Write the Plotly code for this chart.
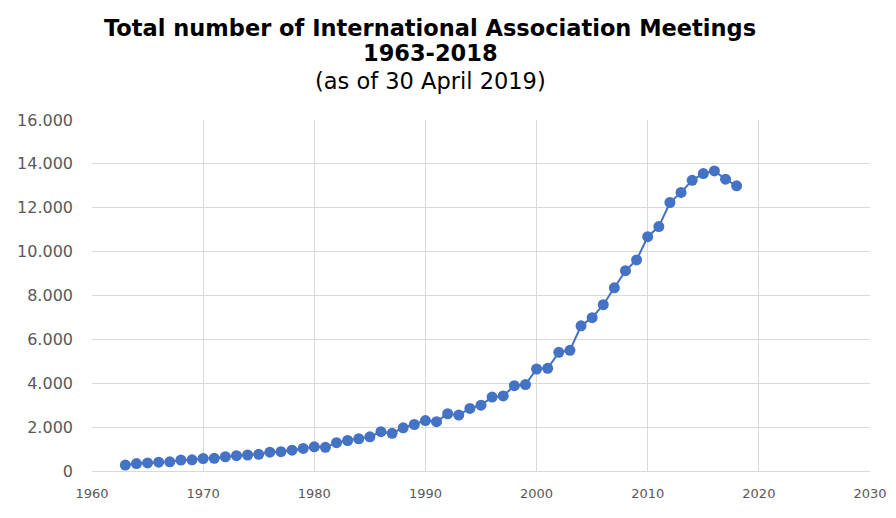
import plotly.graph_objects as go

years = list(range(1963, 2019))
meetings = [270, 340, 370, 400, 420, 500, 510, 570, 580, 650,
            700, 730, 760, 860, 880, 950, 1030, 1100, 1080, 1290,
            1390, 1470, 1560, 1790, 1720, 1970, 2120, 2300, 2250, 2610,
            2550, 2850, 3000, 3370, 3420, 3890, 3940, 4650, 4680, 5410,
            5500, 6620, 6990, 7580, 8350, 9130, 9620, 10680, 11140, 12240,
            12700, 13250, 13560, 13680, 13300, 13000]

title_lines = ["Total number of International Association Meetings", "1963-2018", "(as of 30 April 2019)"]

blue = "#4472C4"
grid = "#d9d9d9"
tickcol = "#595959"
font = "DejaVu Sans"

fig = go.Figure()
fig.add_trace(go.Scatter(
    x=years, y=meetings, mode="lines+markers",
    line=dict(color=blue, width=2),
    marker=dict(color=blue, size=11),
    showlegend=False,
))

# page body has an 8px margin; compensate so the plot lands where the reference has it
W, H = 880, 510
ML, MR, MT, MB = 84, 18, 112, 47
fig.update_layout(
    width=W, height=H,
    margin=dict(l=ML, r=MR, t=MT, b=MB),
    paper_bgcolor="white", plot_bgcolor="white",
    separators=",.",
    font=dict(family=font, color=tickcol),
    xaxis=dict(range=[1960, 2030], dtick=10, tick0=1960, automargin=False,
               showgrid=True, gridcolor=grid, gridwidth=1,
               showline=True, mirror=False, linecolor=grid, zeroline=False,
               ticks="", ticklabelstandoff=10, ticklabeloverflow="allow",
               tickfont=dict(size=13, color=tickcol)),
    yaxis=dict(range=[0, 16000], dtick=2000, tickformat=",d", automargin=False,
               showgrid=True, gridcolor=grid, gridwidth=1,
               showline=False, zeroline=False,
               ticks="", ticklabelstandoff=18,
               tickfont=dict(size=16, color=tickcol)),
)

ph = H - MT - MB
pw = W - ML - MR
xc = (430 - 8 - ML) / pw
for txt, ypix, bold, sz in [(title_lines[0], 28, True, 22.5), (title_lines[1], 53, True, 22.5),
                            (title_lines[2], 81, False, 22.5)]:
    fig.add_annotation(text=("<b>%s</b>" % txt) if bold else txt, xref="paper", yref="paper",
                       x=xc, y=1 + (120 - ypix) / ph, showarrow=False,
                       font=dict(family=font, size=sz, color="black"),
                       xanchor="center", yanchor="middle")

fig.write_html("out.html")
